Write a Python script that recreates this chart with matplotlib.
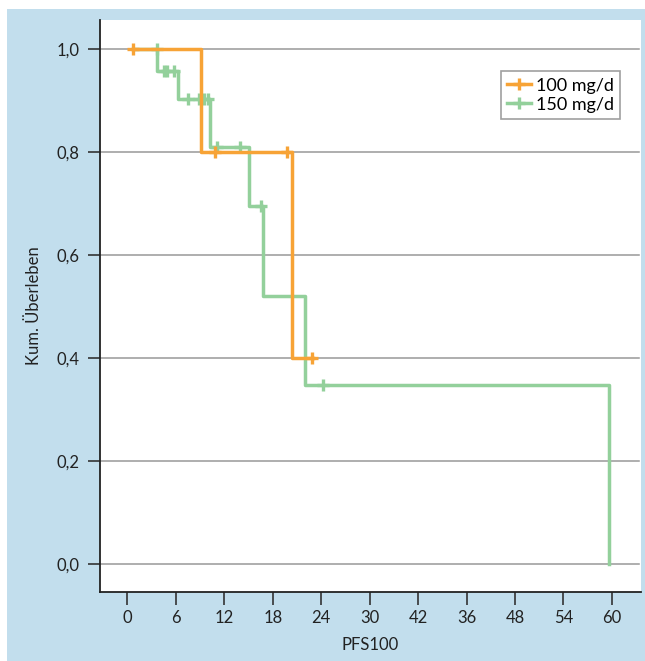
import matplotlib
matplotlib.use("Agg")
import matplotlib.pyplot as plt
from matplotlib.patches import Rectangle

# Kaplan-Meier steps
t_100 = [0.7, 9.1, 20.4, 23.0]
s_100 = [1.0, 0.8, 0.4, 0.4]
cens_t_100 = [0.7, 10.8, 19.8, 22.8]
cens_s_100 = [1.0, 0.8, 0.8, 0.4]

t_150 = [0.7, 3.7, 6.2, 10.2, 15.0, 16.8, 22.0, 59.6]
s_150 = [1.0, 0.957, 0.903, 0.81, 0.695, 0.52, 0.348, 0.0]
cens_t_150 = [3.7, 4.5, 4.9, 5.8, 7.5, 8.8, 9.5, 10.0, 11.1, 13.9, 16.6, 24.2]
cens_s_150 = [1.0, 0.957, 0.957, 0.957, 0.903, 0.903, 0.903, 0.903, 0.81, 0.81, 0.695, 0.348]

x_ticks = [0, 6, 12, 18, 24, 30, 36, 42, 48, 54, 60]
x_labels = ["0", "6", "12", "18", "24", "30", "42", "36", "48", "54", "60"]
y_ticks = [0.0, 0.2, 0.4, 0.6, 0.8, 1.0]
y_labels = ["0,0", "0,2", "0,4", "0,6", "0,8", "1,0"]

orange = "#f7a336"
green = "#93d09b"
blue = "#c2deed"

plt.rcParams["font.family"] = ["Lato", "DejaVu Sans"]

fig = plt.figure(figsize=(6.45, 6.61), dpi=100)
fig.patch.set_facecolor("white")
fig.add_artist(Rectangle((7 / 645, 0), 1 - 7 / 645, 1 - 9 / 661,
                         transform=fig.transFigure, facecolor=blue,
                         edgecolor="none", zorder=-10))

ax = fig.add_axes([100 / 645, 1 - 592 / 661, 541 / 645, 572 / 661])
ax.set_facecolor("white")

lw = 2.5
ms = 8
mew = 2.4

ax.step(t_150, s_150, where="post", color=green, lw=lw, zorder=3)
ax.plot(cens_t_150, cens_s_150, ls="none", marker="+", ms=ms, mew=mew,
        color=green, zorder=3)
ax.step(t_100, s_100, where="post", color=orange, lw=lw, zorder=4)
ax.plot(cens_t_100, cens_s_100, ls="none", marker="+", ms=ms, mew=mew,
        color=orange, zorder=4)

# legend proxies
ax.plot([], [], color=orange, lw=lw, marker="+", ms=ms, mew=mew, label="100 mg/d")
ax.plot([], [], color=green, lw=lw, marker="+", ms=ms, mew=mew, label="150 mg/d")
leg = ax.legend(loc="upper right", bbox_to_anchor=(0.962, 0.91), fontsize=13,
                frameon=True, fancybox=False, edgecolor="#888888",
                handlelength=1.3, handletextpad=0.3, borderpad=0.35,
                labelspacing=0.15, borderaxespad=0)
leg.get_frame().set_linewidth(1.2)

ax.set_xlim(-3.4, 63.6)
ax.set_ylim(-0.055, 1.056)
ax.set_xticks(x_ticks)
ax.set_xticklabels(x_labels)
ax.set_yticks(y_ticks)
ax.set_yticklabels(y_labels)
ax.tick_params(axis="both", direction="out", length=9, width=1.2,
               color="#333333", labelsize=12, labelcolor="#222222")
ax.tick_params(axis="y", pad=6)
ax.tick_params(axis="x", pad=4)

for yv in y_ticks:
    ax.axhline(yv, color="#999999", lw=1.1, zorder=1, xmax=0.996)

ax.spines["top"].set_visible(False)
ax.spines["right"].set_visible(False)
ax.spines["left"].set_color("#222222")
ax.spines["bottom"].set_color("#222222")
ax.spines["left"].set_linewidth(1.3)
ax.spines["bottom"].set_linewidth(1.3)

ax.set_xlabel("PFS100", fontsize=12, color="#222222", labelpad=8)
ax.set_ylabel("Kum. Überleben", fontsize=12, color="#222222", labelpad=10)

fig.savefig("out.png", dpi=100)
